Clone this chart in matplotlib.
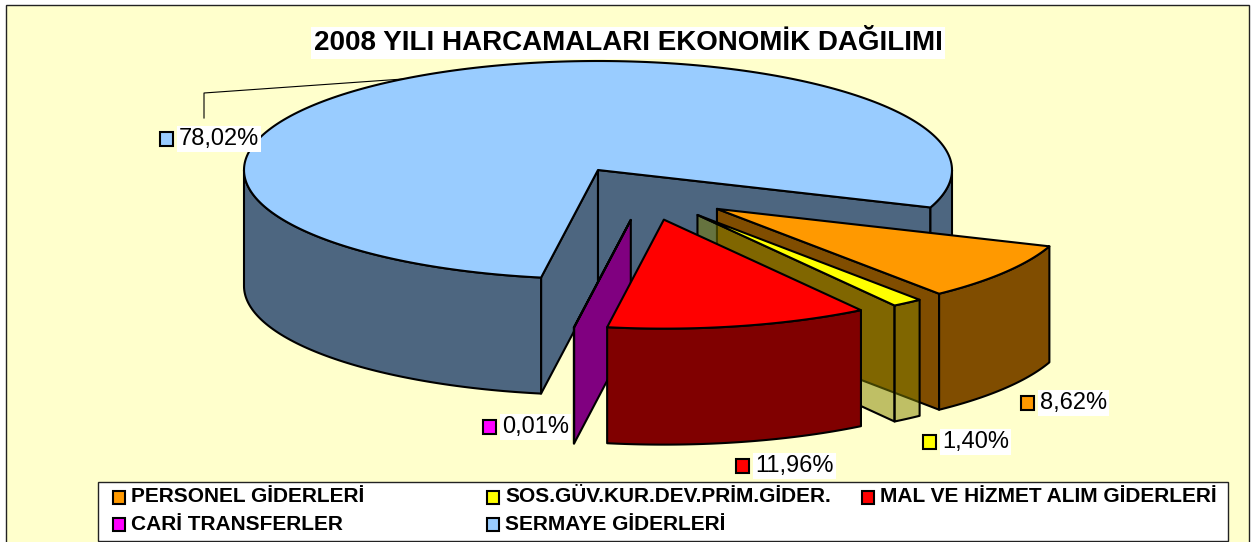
import numpy as np
import matplotlib
matplotlib.use('Agg')
import matplotlib.pyplot as plt
from matplotlib.patches import Polygon, Rectangle

title = '2008 YILI HARCAMALARI EKONOMİK DAĞILIMI'
categories = ['PERSONEL GİDERLERİ', 'SOS.GÜV.KUR.DEV.PRİM.GİDER.', 'MAL VE HİZMET ALIM GİDERLERİ',
              'CARİ TRANSFERLER', 'SERMAYE GİDERLERİ']
values = [8.62, 1.40, 11.96, 0.01, 78.02]
value_labels = ['8,62%', '1,40%', '11,96%', '0,01%', '78,02%']
top_colors = ['#FF9900', '#FFFF00', '#FF0000', '#FF00FF', '#99CCFF']
side_colors = ['#804D00', (0.5, 0.5, 0, 0.5), '#800000', '#800080', '#4D6680']

# pie geometry in pixels of the 1256x542 image
cx, cy = 645, 193
rx, ry = 354, 109
depth = 116
start_angle = -20.1
explode = [0.25, 0.25, 0.25, 0.25, 0.0]
big_shift = (-47, -23)

font = ['Liberation Sans Narrow', 'Liberation Sans']
lw = 1.5

fig = plt.figure(figsize=(12.56, 5.42), dpi=100, facecolor='white')
ax = fig.add_axes([0, 0, 1, 1])
ax.set_xlim(0, 1256)
ax.set_ylim(542, 0)
ax.axis('off')

ax.add_patch(Rectangle((6, 5), 1243, 560, fc='#FFFFCC', ec='#222222', lw=1.0, zorder=0))


def ell(ox, oy, a):
    a = np.radians(a)
    return np.column_stack([ox + rx * np.cos(a), oy - ry * np.sin(a)])


def wall(ox, oy, a, z):
    p = ell(ox, oy, np.atleast_1d(a))
    return np.vstack([[ox, oy], p, p[::-1] + [0, 0], [ox, oy]])


def draw_slice(ox, oy, a0, a1, top, side, z):
    # a0 > a1, slice runs clockwise from a0 to a1
    for a, sign in ((a0, 1), (a1, -1)):
        # flat cut faces, only those turned to the viewer
        if np.sin(np.radians(a + sign * 90)) < 0:
            p = ell(ox, oy, np.array([a]))[0]
            ax.add_patch(Polygon([[ox, oy], p, p + [0, depth], [ox, oy + depth]], closed=True,
                                 fc=side, ec='black', lw=lw, joinstyle='round', zorder=z))
    # outer wall, front half of the ellipse only
    lo, hi = a1, a0
    for k in (-360, 0):
        s, e = max(lo, -180 + k), min(hi, 0 + k)
        if e > s:
            t = np.linspace(e, s, 80)
            p = ell(ox, oy, t)
            ax.add_patch(Polygon(np.vstack([p, p[::-1] + [0, depth]]), closed=True,
                                 fc=side, ec='black', lw=lw, joinstyle='round', zorder=z))
    t = np.linspace(a0, a1, 240)
    ax.add_patch(Polygon(np.vstack([[ox, oy], ell(ox, oy, t)]), closed=True,
                         fc=top, ec='black', lw=lw, joinstyle='round', zorder=z + 0.5))


total = sum(values)
angle = start_angle
draw_list = []
for i, v in enumerate(values):
    sweep = 360 * v / total
    mid = np.radians(angle - sweep / 2)
    ox = cx + explode[i] * rx * np.cos(mid)
    oy = cy - explode[i] * ry * np.sin(mid)
    if i == 4:
        ox, oy = cx + big_shift[0], cy + big_shift[1]
    draw_list.append((ox, oy, angle, angle - sweep, top_colors[i], side_colors[i]))
    angle -= sweep

for z, i in enumerate([4, 0, 1, 3, 2]):
    ox, oy, a0, a1, top, side = draw_list[i]
    draw_slice(ox, oy, a0, a1, top, side, 2 + z)

# title
ax.text(628, 43, title, family=font, fontsize=20, fontweight='bold', ha='center', va='center',
        bbox=dict(fc='white', ec='none', pad=2), zorder=10)

# leader line of the big slice
ax.plot([204, 204, 403], [118, 93, 79], color='black', lw=0.8, zorder=1)

# data labels
label_pos = [(1021, 403), (923, 442), (736, 466), (483, 427), (160, 139)]
for i, (x, y) in enumerate(label_pos):
    ax.add_patch(Rectangle((x, y - 7), 13, 14, fc=top_colors[i], ec='black', lw=1.5, zorder=10))
    ax.text(x + 19, y, value_labels[i], family=font, fontsize=17, ha='left', va='center',
            bbox=dict(fc='white', ec='none', pad=1.5), zorder=10)

# legend box
ax.add_patch(Rectangle((98, 482), 1130, 59, fc='white', ec='#222222', lw=1.0, zorder=9))
legend_pos = [(113, 497), (487, 497), (862, 497), (113, 524), (487, 524)]
for i, (x, y) in enumerate(legend_pos):
    ax.add_patch(Rectangle((x, y - 6), 12, 13, fc=top_colors[i], ec='black', lw=1.5, zorder=10))
    ax.text(x + 18, y, categories[i], family=font, fontsize=15, fontweight='bold', ha='left', va='center',
            zorder=10)

fig.savefig('out.png', dpi=100)
